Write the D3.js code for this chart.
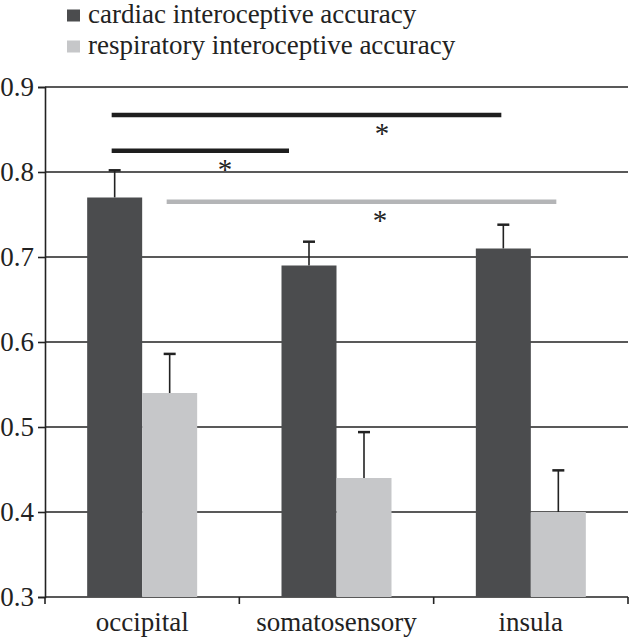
<!DOCTYPE html>
<html><head><meta charset="utf-8">
<script src="https://cdn.jsdelivr.net/npm/d3@7"></script>
<style>
body{margin:0;background:#fff;font-family:"Liberation Serif",serif}
svg{display:block}
svg text{font-family:"Liberation Serif","Times New Roman",serif !important}
</style>
</head><body>
<svg id="c" width="629" height="639" style="font-family:'Liberation Serif',serif"></svg>
<script>
const categories = ["occipital", "somatosensory", "insula"];
const seriesNames = ["cardiac interoceptive accuracy", "respiratory interoceptive accuracy"];
const cardiac = [0.77, 0.69, 0.71];
const cardiacErrTop = [0.802, 0.718, 0.738];
const respiratory = [0.54, 0.44, 0.40];
const respiratoryErrTop = [0.586, 0.494, 0.449];
const yTicks = [0.3, 0.4, 0.5, 0.6, 0.7, 0.8, 0.9];
const yTickLabels = ["0.3", "0.4", "0.5", "0.6", "0.7", "0.8", "0.9"];
// significance brackets: from category/series to category/series, at level y
const sigFrom = [["occipital", 0], ["occipital", 0], ["occipital", 1]];
const sigTo = [["insula", 0], ["somatosensory", 0], ["insula", 1]];
const sigLevel = [0.867, 0.825, 0.765];
const sigLabel = ["*", "*", "*"];

const colors = ["#4b4c4e", "#c6c7c9"];
const sigColors = ["#1e1e1e", "#1e1e1e", "#b4b5b7"];

const svg = d3.select("#c");
const L = 45, R = 628, T = 87, B = 597;
const y = d3.scaleLinear().domain([0.3, 0.9]).range([B, T]);
const x0 = d3.scaleBand().domain(categories).range([L, R]);
const bw = 55;
const x1 = d3.scaleBand().domain([0, 1])
  .range([x0.bandwidth() / 2 - bw, x0.bandwidth() / 2 + bw]);

const fs = 27;

// gridlines
svg.append("g").selectAll("line").data(yTicks.filter(d => d > 0.3)).join("line")
  .attr("x1", L).attr("x2", R).attr("y1", d => y(d)).attr("y2", d => y(d))
  .attr("stroke", "#222").attr("stroke-width", 1.6);

// y axis
const yAxis = d3.axisLeft(y).tickValues(yTicks).tickFormat((d, i) => yTickLabels[i]).tickSize(7).tickPadding(4);
const gy = svg.append("g").attr("transform", `translate(${L},0)`).call(yAxis);
gy.attr("font-family", null).attr("font-size", fs);
gy.select(".domain").attr("stroke", "#222").attr("stroke-width", 1.6);
gy.selectAll(".tick line").attr("stroke", "#222").attr("stroke-width", 1.6);
gy.selectAll(".tick text").attr("font-size", fs).attr("fill", "#222");

// x axis
const xAxis = d3.axisBottom(x0).tickSize(0).tickPadding(15);
const gx = svg.append("g").attr("transform", `translate(0,${B})`).call(xAxis);
gx.attr("font-family", null).attr("font-size", fs);
gx.select(".domain").remove();
gx.selectAll(".tick text").attr("font-size", fs).attr("fill", "#222");
svg.append("line").attr("x1", L).attr("x2", R).attr("y1", B).attr("y2", B).attr("stroke", "#222").attr("stroke-width", 1.6);
const bounds = [L].concat(categories.map(c => x0(c) + x0.bandwidth()));
svg.append("g").selectAll("line").data(bounds).join("line")
  .attr("x1", d => d).attr("x2", d => d).attr("y1", B).attr("y2", B + 7)
  .attr("stroke", "#222").attr("stroke-width", 1.6);

// bars
const seriesVals = [cardiac, respiratory];
const seriesErr = [cardiacErrTop, respiratoryErrTop];
seriesVals.forEach((vals, s) => {
  const g = svg.append("g");
  const cx = (c) => x0(c) + x1(s) + x1.bandwidth() / 2;
  g.selectAll("line.err").data(categories).join("line").attr("class", "err")
    .attr("x1", c => cx(c)).attr("x2", c => cx(c))
    .attr("y1", (c, i) => y(vals[i])).attr("y2", (c, i) => y(seriesErr[s][i]))
    .attr("stroke", "#222").attr("stroke-width", 1.6);
  g.selectAll("line.cap").data(categories).join("line").attr("class", "cap")
    .attr("x1", c => cx(c) - 6).attr("x2", c => cx(c) + 6)
    .attr("y1", (c, i) => y(seriesErr[s][i])).attr("y2", (c, i) => y(seriesErr[s][i]))
    .attr("stroke", "#222").attr("stroke-width", 2.5);
  g.selectAll("rect").data(categories).join("rect")
    .attr("x", c => x0(c) + x1(s)).attr("width", x1.bandwidth())
    .attr("y", (c, i) => y(vals[i])).attr("height", (c, i) => B - y(vals[i]))
    .attr("fill", colors[s]);
});

// significance lines
const pos = (p) => x0(p[0]) + x1(p[1]) + x1.bandwidth() / 2;
sigLevel.forEach((lv, i) => {
  let xa = pos(sigFrom[i]) - 3, xb = pos(sigTo[i]) - 2;
  if (i === 1) xb = pos(sigTo[i]) - 20;
  svg.append("line").attr("x1", xa).attr("x2", xb).attr("y1", y(lv)).attr("y2", y(lv))
    .attr("stroke", sigColors[i]).attr("stroke-width", 4.5);
});
const starX = [382, 225, 380];
sigLevel.forEach((lv, i) => {
  svg.append("text").attr("x", starX[i]).attr("y", y(lv) + 28)
    .attr("text-anchor", "middle").attr("font-size", 29)
    .attr("fill", "#222").text(sigLabel[i]);
});

// legend
const lg = svg.append("g");
seriesNames.forEach((n, i) => {
  lg.append("rect").attr("x", 67).attr("y", 9.5 + i * 31).attr("width", 13).attr("height", 12).attr("fill", colors[i]);
  lg.append("text").attr("x", 88).attr("y", 23 + i * 31).attr("font-size", fs)
    .attr("fill", "#222").text(n);
});
</script>
</body></html>
